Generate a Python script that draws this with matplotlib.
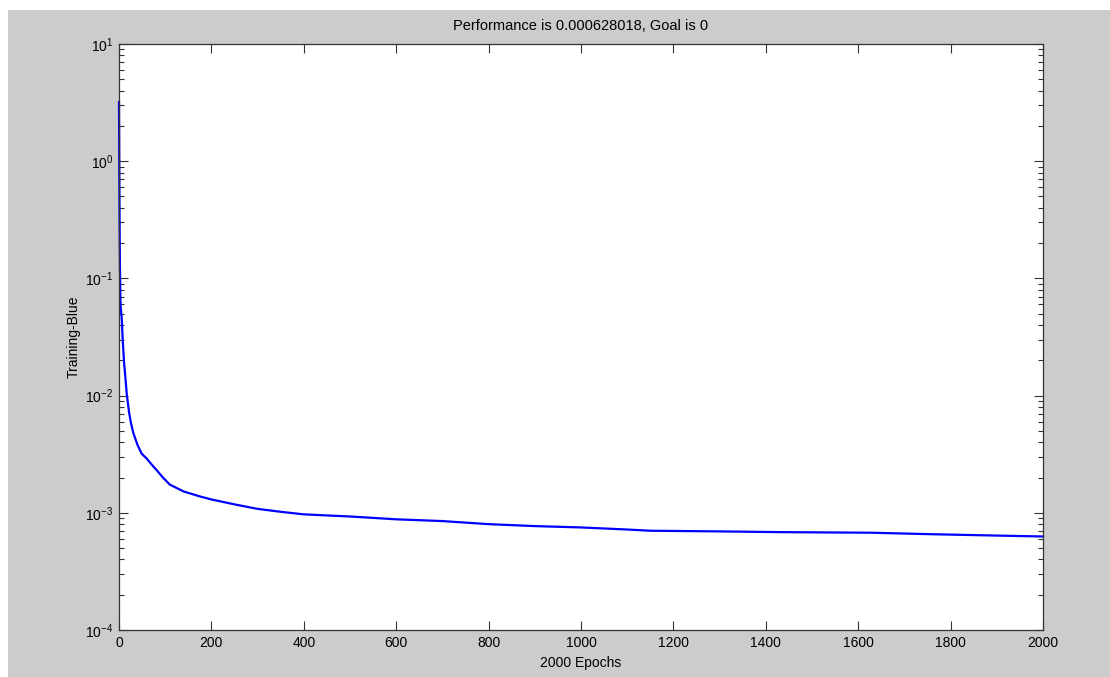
import matplotlib
matplotlib.use('Agg')
import matplotlib.pyplot as plt
from matplotlib.patches import Rectangle
from matplotlib.ticker import LogLocator, FixedLocator

plt.rcParams['font.family'] = ['Liberation Sans', 'DejaVu Sans']
plt.rcParams['mathtext.fontset'] = 'custom'
plt.rcParams['mathtext.rm'] = 'Liberation Sans'
plt.rcParams['mathtext.it'] = 'Liberation Sans'

# training performance
epochs = [0, 1, 2, 3, 4, 6, 8, 11, 14, 17, 22, 26, 31, 40, 49, 60, 70, 82,
          95, 110, 140, 175, 200, 250, 300, 350, 400, 500, 600, 700, 800,
          900, 1000, 1100, 1150, 1300, 1430, 1630, 1755, 1910, 2000]
perf = [3.2, 0.44, 0.13, 0.066, 0.055, 0.045, 0.03, 0.019, 0.014, 0.0101,
        0.0071, 0.0058, 0.0048, 0.0038, 0.0032, 0.0029, 0.0026, 0.0023,
        0.002, 0.00174, 0.00152, 0.00138, 0.0013, 0.00118, 0.00108,
        0.00102, 0.00097, 0.00093, 0.00088, 0.00085, 0.0008, 0.00077,
        0.00075, 0.00072, 0.000703, 0.000694, 0.000684, 0.000676,
        0.000657, 0.000638, 0.000628]

xticks = list(range(0, 2001, 200))

fig = plt.figure(figsize=(11.1, 6.77), dpi=100)
fig.patch.set_facecolor('white')
fig.patches.append(Rectangle((8 / 1110, 0), 1 - 8 / 1110, 1 - 10 / 677,
                             transform=fig.transFigure, facecolor='#cccccc',
                             edgecolor='none', zorder=-10))

ax = fig.add_axes([119 / 1110, 47 / 677, 924 / 1110, 586 / 677])
ax.set_facecolor('white')
ax.plot(epochs, perf, color='#0000ff', linewidth=1.6, clip_on=False)

ax.set_yscale('log')
ax.set_xlim(0, 2000)
ax.set_ylim(1e-4, 1e1)
ax.xaxis.set_major_locator(FixedLocator(xticks))
ax.yaxis.set_major_locator(LogLocator(base=10, numticks=10))
ax.yaxis.set_minor_locator(LogLocator(base=10, subs=range(2, 10), numticks=20))

ax.tick_params(which='both', direction='in', top=True, right=True,
               colors='#333333', labelcolor='black', labelsize=10, width=0.8)
ax.tick_params(which='major', length=6.5, pad=4)
ax.tick_params(which='minor', length=3.5)
for s in ax.spines.values():
    s.set_color('#333333')
    s.set_linewidth(0.9)

ax.set_title('Performance is 0.000628018, Goal is 0', fontsize=10.5, pad=10)
ax.set_xlabel('2000 Epochs', fontsize=10, labelpad=5)
ax.set_ylabel('Training-Blue', fontsize=10, labelpad=3)

fig.savefig('out.png', dpi=100, facecolor=fig.get_facecolor())
